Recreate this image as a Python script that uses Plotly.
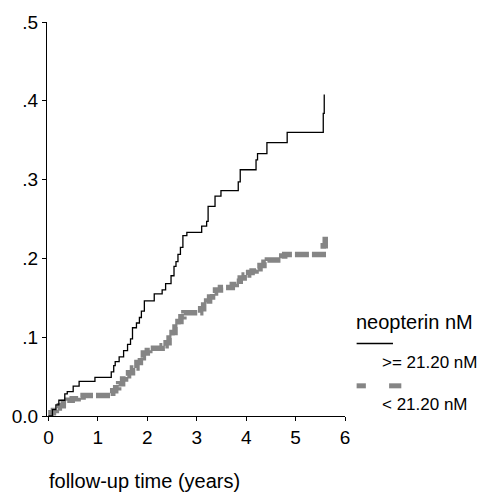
import plotly.graph_objects as go

# ---- data ----
t_high = [0, 0.08, 0.15, 0.21, 0.33, 0.38, 0.5, 0.62, 0.94, 1.27, 1.32, 1.35, 1.43, 1.52, 1.6, 1.66,
          1.70, 1.78, 1.84, 1.88, 1.94, 2.14, 2.30, 2.37, 2.48, 2.54, 2.58, 2.62, 2.67, 2.72, 2.80,
          3.10, 3.20, 3.23, 3.37, 3.49, 3.84, 3.88, 4.20, 4.23, 4.42, 4.83, 5.56, 5.58]
v_high = [0, 0.008, 0.014, 0.02, 0.028, 0.031, 0.038, 0.044, 0.049, 0.056, 0.064, 0.069, 0.075, 0.083,
          0.091, 0.098, 0.112, 0.118, 0.125, 0.133, 0.146, 0.155, 0.16, 0.168, 0.178, 0.19, 0.196,
          0.205, 0.214, 0.229, 0.233, 0.241, 0.247, 0.266, 0.279, 0.286, 0.297, 0.3125, 0.325, 0.333,
          0.347, 0.36, 0.384, 0.408]

t_low = [0, 0.05, 0.1, 0.16, 0.22, 0.3, 0.38, 0.48, 0.6, 0.7, 1.25, 1.3, 1.36, 1.42, 1.5, 1.56, 1.62,
         1.7, 1.79, 1.86, 1.92, 2.0, 2.05, 2.3, 2.38, 2.44, 2.5, 2.56, 2.62, 2.68, 2.74, 3.08, 3.14,
         3.2, 3.26, 3.32, 3.38, 3.48, 3.72, 3.8, 3.88, 3.96, 4.05, 4.12, 4.2, 4.28, 4.36, 4.43, 4.72,
         4.78, 5.56, 5.6]
v_low = [0, 0.004, 0.007, 0.01, 0.013, 0.017, 0.02, 0.022, 0.024, 0.026, 0.029, 0.032, 0.036, 0.041,
         0.047, 0.051, 0.055, 0.061, 0.068, 0.074, 0.08, 0.083, 0.086, 0.089, 0.093, 0.099, 0.106,
         0.113, 0.12, 0.126, 0.131, 0.136, 0.141, 0.146, 0.151, 0.156, 0.16, 0.163, 0.167, 0.171,
         0.175, 0.179, 0.182, 0.184, 0.187, 0.191, 0.195, 0.198, 0.203, 0.205, 0.216, 0.228]

y_tickvals = [0, 0.1, 0.2, 0.3, 0.4, 0.5]
y_ticktext = ["0.0", ".1", ".2", ".3", ".4", ".5"]
x_tickvals = [0, 1, 2, 3, 4, 5, 6]

legend_title = "neopterin nM"
label_high = ">= 21.20 nM"
label_low = "< 21.20 nM"
x_title = "follow-up time (years)"

FONT = "Liberation Sans, Arial, sans-serif"
GRAY = "#858585"

fig = go.Figure()
fig.add_trace(go.Scatter(x=t_low, y=v_low, mode="lines", line_shape="hv",
                         line=dict(color=GRAY, width=5.5, dash="14px,3px"), showlegend=False))
fig.add_trace(go.Scatter(x=t_high, y=v_high, mode="lines", line_shape="hv",
                         line=dict(color="black", width=1.3), showlegend=False))

fig.update_layout(
    width=492, height=498,
    margin=dict(l=45, r=147, t=18, b=82),
    paper_bgcolor="white", plot_bgcolor="white",
    font=dict(family=FONT, color="black"),
    showlegend=False,
)
fig.update_xaxes(range=[-0.03, 6], tickvals=x_tickvals, showline=True, linecolor="black",
                 linewidth=1.3, ticks="outside", ticklen=4, tickwidth=1.2, tickcolor="black",
                 showgrid=False, zeroline=False, tickfont=dict(size=19, family=FONT))
fig.update_yaxes(range=[0, 0.5], tickvals=y_tickvals, ticktext=y_ticktext, showline=True,
                 linecolor="black", linewidth=1.3, ticks="outside", ticklen=4, tickwidth=1.2,
                 tickcolor="black", showgrid=False, zeroline=False,
                 tickfont=dict(size=19, family=FONT))

# axis title
fig.add_annotation(xref="paper", yref="paper", x=0.006, y=-0.166, text=x_title,
                   showarrow=False, xanchor="left", yanchor="middle", xshift=-2,
                   font=dict(size=20, family=FONT))

# legend (drawn manually)
fig.add_annotation(xref="paper", yref="paper", x=1.039, y=0.2387, text=legend_title,
                   showarrow=False, xanchor="left", yanchor="middle", xshift=-3,
                   font=dict(size=20, family=FONT))
fig.add_shape(type="line", xref="paper", yref="paper", x0=1.039, x1=1.161, y0=0.184, y1=0.184,
              line=dict(color="black", width=1.3))
fig.add_annotation(xref="paper", yref="paper", x=1.128, y=0.136, text=label_high,
                   showarrow=False, xanchor="left", yanchor="middle", xshift=-3,
                   font=dict(size=17, family=FONT))
fig.add_shape(type="line", xref="paper", yref="paper", x0=1.039, x1=1.07, y0=0.0766, y1=0.0766,
              line=dict(color=GRAY, width=5))
fig.add_shape(type="line", xref="paper", yref="paper", x0=1.148, x1=1.189, y0=0.0766, y1=0.0766,
              line=dict(color=GRAY, width=5))
fig.add_annotation(xref="paper", yref="paper", x=1.128, y=0.0284, text=label_low,
                   showarrow=False, xanchor="left", yanchor="middle", xshift=-3,
                   font=dict(size=17, family=FONT))

fig.write_html("out.html")
